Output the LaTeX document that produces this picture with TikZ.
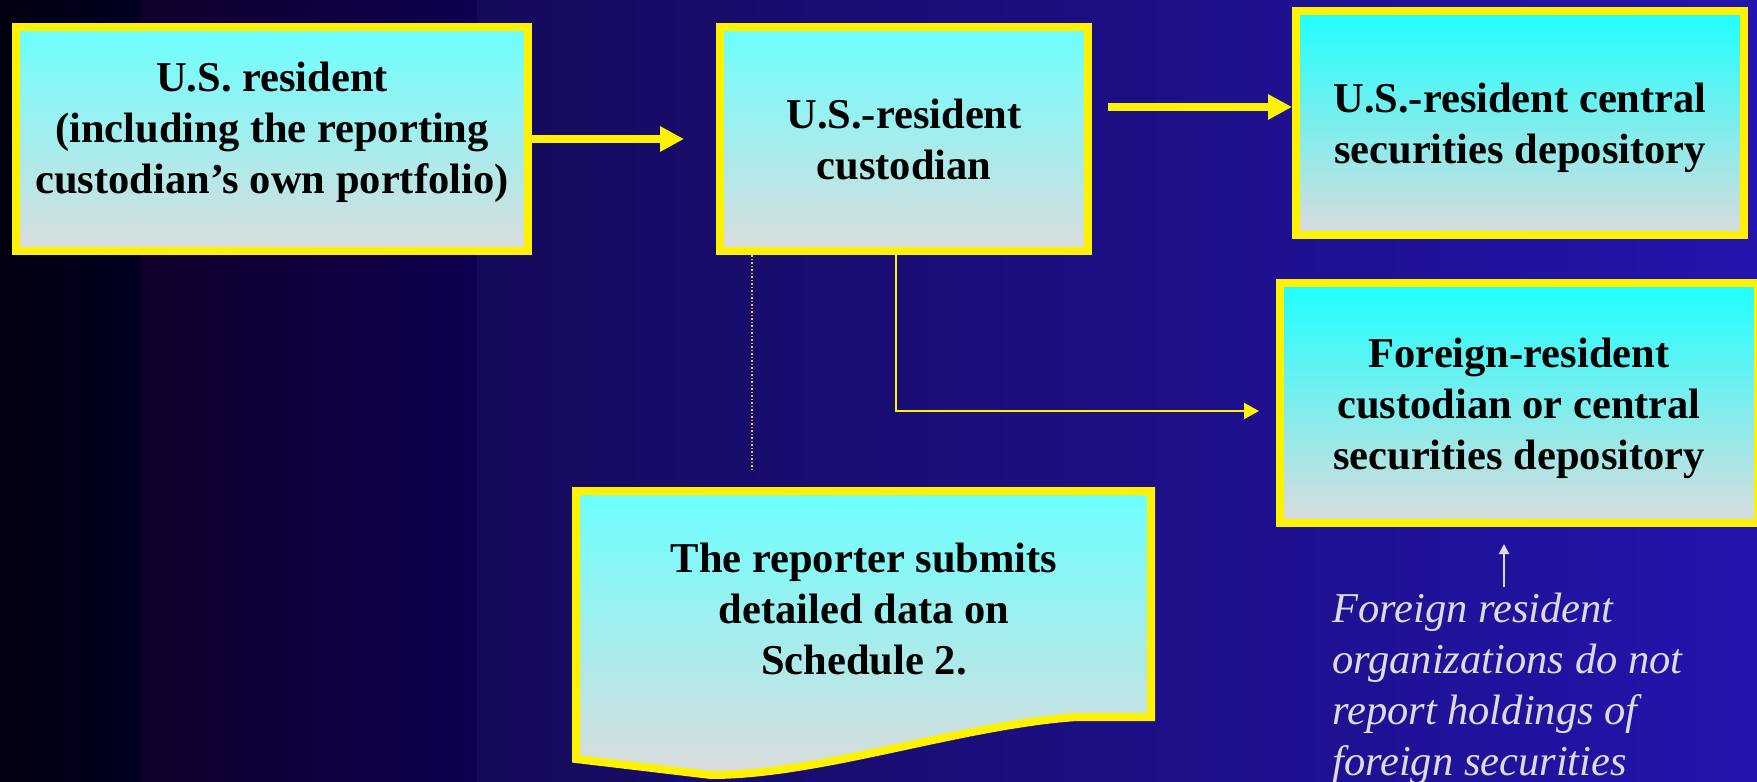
\documentclass[tikz,border=0pt]{standalone}
\usepackage{fontspec}
\setmainfont{Liberation Serif}
\usetikzlibrary{arrows.meta,calc}

\definecolor{bgA}{HTML}{02000E}
\definecolor{bgB}{HTML}{000022}
\definecolor{bgC}{HTML}{10002A}
\definecolor{bgD}{HTML}{0E0050}
\definecolor{bgE}{HTML}{140A5A}
\definecolor{bgF}{HTML}{2414AE}
\definecolor{boxtop}{HTML}{6CFFFF}
\definecolor{deeptop}{HTML}{1EFFFF}
\definecolor{boxgrey}{HTML}{DADCDC}
\definecolor{notegrey}{HTML}{DCDCDC}
\definecolor{dotyellow}{HTML}{D8C848}

\tikzset{
	box/.style={draw=yellow, line width=8pt, top color=boxtop, bottom color=boxgrey, inner sep=0pt},
	deepbox/.style={box, top color=deeptop},
	boxtext/.style={text=black, align=center, inner sep=0pt, font=\fontsize{42.5}{51}\selectfont\bfseries},
	notetext/.style={text=notegrey, align=left, inner sep=0pt, font=\fontsize{42.5}{51}\selectfont\itshape},
	bigarrow/.style={yellow, line width=8pt, -{Triangle[length=24pt,width=24pt]}},
	thinarrow/.style={yellow, line width=2pt, -{Triangle[length=15pt,width=16pt]}},
	notearrow/.style={notegrey, line width=2pt, -{Triangle[length=10pt,width=10pt]}},
	dotline/.style={dotyellow, line width=1.5pt, dash pattern=on 1.5pt off 2pt}
}

\begin{document}
\begin{tikzpicture}[x=1pt, y=-1pt]
		%%%%% BACKGROUND %%%%%
		
		\useasboundingbox (0,0) rectangle (1757,782);
		\clip (0,0) rectangle (1757,782);
		\fill[left color=bgA, right color=bgB] (0,0) rectangle (140,782);
		\fill[left color=bgC, right color=bgD] (140,0) rectangle (477,782);
		\fill[left color=bgE, right color=bgF] (477,0) rectangle (1757,782);
		
		%%%%% BOXES %%%%%
		
		\node[box, minimum width=512pt, minimum height=224pt] (usres) at (272,139) {};
		\node[boxtext] (usrestext) at (272,132) {U.S. resident\\(including the reporting\\custodian’s own portfolio)};
		
		\node[box, minimum width=368pt, minimum height=224pt] (cust) at (904,139) {};
		\node[boxtext] (custtext) at (904,140) {U.S.-resident\\custodian};
		
		\node[deepbox, minimum width=448pt, minimum height=224pt] (depot) at (1520,123) {};
		\node[boxtext] (depottext) at (1520,128) {U.S.-resident central\\securities depository};
		
		\node[deepbox, minimum width=478pt, minimum height=240pt] (foreign) at (1519,403) {};
		\node[boxtext] (foreigntext) at (1519,408) {Foreign-resident\\custodian or central\\securities depository};
		
		% the report sheet
		\draw[box] (576,491) -- (1151,491) -- (1151,717) -- (1077,717) .. controls (960,725) and (820,775) .. (711,775) -- (576,759) -- cycle;
		\node[boxtext] (report) at (864,609) {The reporter submits\\detailed data on\\Schedule 2.};
		
		%%%%% ARROWS %%%%%
		
		\draw[bigarrow] (usres.east) -- ([xshift=-32pt]cust.west);
		\coordinate (depotstart) at ($(cust.east)+(16,-32)$);
		\draw[bigarrow] (depotstart) -- (depotstart -| depot.west);
		
		\draw[thinarrow] ([xshift=-8pt]cust.south) |- ($(foreign.west)+(-17,8)$);
		
		\coordinate (dotend) at (752,471);
		\draw[dotline] ([xshift=-152pt]cust.south) -- (dotend);
		
		%%%%% NOTE %%%%%
		
		\node[notetext, anchor=north west] (note) at (1332,593) {Foreign resident\\organizations do not\\report holdings of\\foreign securities};
		\coordinate (notefoot) at (1504,587);
		\draw[notearrow] (notefoot) -- ($(foreign.south -| notefoot)+(0,17)$);
		
		%%%%% END %%%%%
	\end{tikzpicture}
\end{document}
